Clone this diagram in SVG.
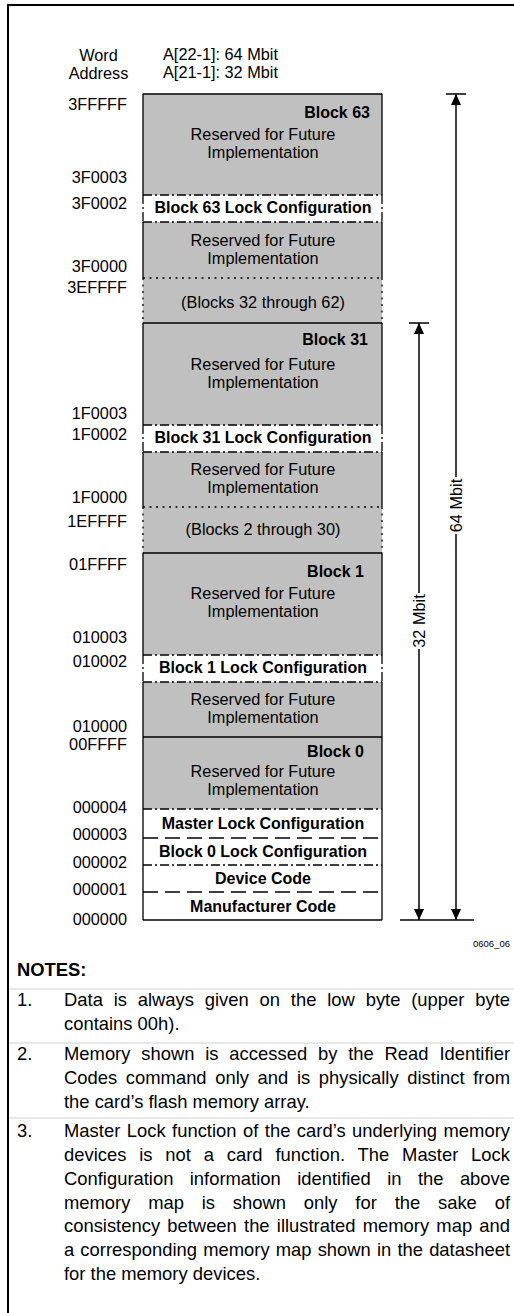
<svg xmlns="http://www.w3.org/2000/svg" width="514" height="1313" viewBox="0 0 514 1313">
<style>
text{font-family:"Liberation Sans",Arial,sans-serif;fill:#000}
.t{font-size:16.3px}
.c{font-size:16.3px;text-anchor:middle}
.b{font-size:16px;font-weight:bold;text-anchor:middle}
.bl{font-size:16px;font-weight:bold;text-anchor:end}
.a{font-size:16.3px;text-anchor:end}
.n{font-size:18.4px}
.g{fill:#c0c0c0;stroke:none}
.s{stroke:#000;stroke-width:1.3;fill:none}
.dd{stroke:#000;stroke-width:1.3;fill:none;stroke-dasharray:9 3 2 3}
.ld{stroke:#000;stroke-width:1.3;fill:none;stroke-dasharray:15 7}
.dt{stroke:#000;stroke-width:1.3;fill:none;stroke-dasharray:2 4.5}
.ar{stroke:#000;stroke-width:1.5;fill:none}
.rule{stroke:#cfcfcf;stroke-width:1}
</style>
<defs>
<marker id="ah" viewBox="0 0 12 12" markerWidth="11" markerHeight="11" refX="12" refY="6" orient="auto" markerUnits="userSpaceOnUse">
<path d="M0,0.5 L12,6 L0,11.5 Z" fill="#000"/>
</marker>
</defs>
<path d="M8,1313 V5 H514" stroke="#000" stroke-width="2" fill="none"/>
<g id="header">
<text class="c" x="98.5" y="61">Word</text>
<text class="c" x="98.5" y="79">Address</text>
<text class="t" x="163" y="60">A[22-1]: 64 Mbit</text>
<text class="t" x="163" y="78">A[21-1]: 32 Mbit</text>
</g>
<g id="addresses">
<text class="a" x="127" y="110">3FFFFF</text>
<text class="a" x="127" y="183">3F0003</text>
<text class="a" x="127" y="209">3F0002</text>
<text class="a" x="127" y="272">3F0000</text>
<text class="a" x="127" y="293">3EFFFF</text>
<text class="a" x="127" y="419">1F0003</text>
<text class="a" x="127" y="440">1F0002</text>
<text class="a" x="127" y="503">1F0000</text>
<text class="a" x="127" y="527">1EFFFF</text>
<text class="a" x="127" y="570">01FFFF</text>
<text class="a" x="127" y="643">010003</text>
<text class="a" x="127" y="667">010002</text>
<text class="a" x="127" y="732">010000</text>
<text class="a" x="127" y="750">00FFFF</text>
<text class="a" x="127" y="813">000004</text>
<text class="a" x="127" y="840">000003</text>
<text class="a" x="127" y="868">000002</text>
<text class="a" x="127" y="895">000001</text>
<text class="a" x="127" y="925">000000</text>
</g>
<g id="fills">
<rect class="g" x="143" y="94" width="239" height="101"/>
<rect class="g" x="143" y="222" width="239" height="203"/>
<rect class="g" x="143" y="452" width="239" height="203"/>
<rect class="g" x="143" y="682" width="239" height="127"/>
</g>
<g id="block63">
<text class="bl" x="370" y="118">Block 63</text>
<text class="c" x="263" y="140">Reserved for Future</text>
<text class="c" x="263" y="158">Implementation</text>
</g>
<g id="lock63"><text class="b" x="263" y="213">Block 63 Lock Configuration</text></g>
<g id="res63"><text class="c" x="263" y="246">Reserved for Future</text><text class="c" x="263" y="264">Implementation</text></g>
<g id="blocks32_62"><text class="c" x="263" y="308">(Blocks 32 through 62)</text></g>
<g id="block31">
<text class="bl" x="368" y="345">Block 31</text>
<text class="c" x="263" y="370">Reserved for Future</text>
<text class="c" x="263" y="388">Implementation</text>
</g>
<g id="lock31"><text class="b" x="263" y="443">Block 31 Lock Configuration</text></g>
<g id="res31"><text class="c" x="263" y="475">Reserved for Future</text><text class="c" x="263" y="493">Implementation</text></g>
<g id="blocks2_30"><text class="c" x="263" y="535">(Blocks 2 through 30)</text></g>
<g id="block1">
<text class="bl" x="364" y="577">Block 1</text>
<text class="c" x="263" y="599">Reserved for Future</text>
<text class="c" x="263" y="617">Implementation</text>
</g>
<g id="lock1"><text class="b" x="263" y="673">Block 1 Lock Configuration</text></g>
<g id="res1"><text class="c" x="263" y="705">Reserved for Future</text><text class="c" x="263" y="723">Implementation</text></g>
<g id="block0">
<text class="bl" x="364" y="757">Block 0</text>
<text class="c" x="263" y="777">Reserved for Future</text>
<text class="c" x="263" y="795">Implementation</text>
</g>
<g id="masterlock"><text class="b" x="263" y="829">Master Lock Configuration</text></g>
<g id="lock0"><text class="b" x="263" y="857">Block 0 Lock Configuration</text></g>
<g id="devicecode"><text class="b" x="263" y="884">Device Code</text></g>
<g id="mfrcode"><text class="b" x="263" y="912">Manufacturer Code</text></g>
<g id="borders">
<path class="s" d="M143,94 H382 M143,323 H382 M143,553 H382 M143,737 H382 M143,920 H382"/>
<path class="dd" d="M143,195 H382 M143,222 H382 M143,425 H382 M143,452 H382 M143,655 H382 M143,682 H382 M143,809 H382 M143,865 H382"/>
<path class="ld" d="M143,838 H382 M143,892 H382"/>
<path class="dt" d="M143,278 H382 M143,507 H382"/>
<path class="s" d="M143,94 V195 M382,94 V195 M143,222 V278 M382,222 V278 M143,323 V425 M382,323 V425 M143,452 V507 M382,452 V507 M143,553 V655 M382,553 V655 M143,682 V920 M382,682 V920"/>
<path class="dd" d="M143,195 V222 M382,195 V222 M143,425 V452 M382,425 V452 M143,655 V682 M382,655 V682"/>
<path class="dt" d="M143,278 V323 M382,278 V323 M143,507 V553 M382,507 V553"/>
</g>
<g id="connectors">
<path class="ar" d="M446,94 H466 M409,323 H429 M400,920 H474"/>
<path class="ar" d="M456,477 V94" marker-end="url(#ah)"/>
<path class="ar" d="M456,534 V920" marker-end="url(#ah)"/>
<path class="ar" d="M419,593 V323" marker-end="url(#ah)"/>
<path class="ar" d="M419,649 V920" marker-end="url(#ah)"/>
<text class="c" x="462" y="505.5" transform="rotate(-90 462 505.5)">64 Mbit</text>
<text class="c" x="425" y="621" transform="rotate(-90 425 621)">32 Mbit</text>
</g>
<text x="510" y="947" style="font-size:9.5px;text-anchor:end">0606_06</text>
<g id="notes">
<text class="n" x="17" y="976" font-weight="bold">NOTES:</text>
<line class="rule" x1="9" y1="989" x2="514" y2="989"/>
<text class="n" x="17" y="1006">1.</text>
<text class="n" x="64" y="1006" style="word-spacing:5.7px" textLength="446" lengthAdjust="spacing">Data is always given on the low byte (upper byte</text>
<text class="n" x="64" y="1030">contains 00h).</text>
<line class="rule" x1="9" y1="1043" x2="514" y2="1043"/>
<text class="n" x="17" y="1060">2.</text>
<text class="n" x="64" y="1060" style="word-spacing:5.7px" textLength="446" lengthAdjust="spacing">Memory shown is accessed by the Read Identifier</text>
<text class="n" x="64" y="1084" style="word-spacing:3.5px" textLength="446" lengthAdjust="spacing">Codes command only and is physically distinct from</text>
<text class="n" x="64" y="1108">the card’s flash memory array.</text>
<line class="rule" x1="9" y1="1118" x2="514" y2="1118"/>
<text class="n" x="17" y="1137">3.</text>
<text class="n" x="64" y="1137" style="word-spacing:1.3px" textLength="446" lengthAdjust="spacing">Master Lock function of the card’s underlying memory</text>
<text class="n" x="64" y="1161" style="word-spacing:7.7px" textLength="446" lengthAdjust="spacing">devices is not a card function. The Master Lock</text>
<text class="n" x="64" y="1185" style="word-spacing:11.3px" textLength="446" lengthAdjust="spacing">Configuration information identified in the above</text>
<text class="n" x="64" y="1209" style="word-spacing:12.7px" textLength="446" lengthAdjust="spacing">memory map is shown only for the sake of</text>
<text class="n" x="64" y="1232" style="word-spacing:2.1px" textLength="446" lengthAdjust="spacing">consistency between the illustrated memory map and</text>
<text class="n" x="64" y="1256" style="word-spacing:1px" textLength="446" lengthAdjust="spacing">a corresponding memory map shown in the datasheet</text>
<text class="n" x="64" y="1280">for the memory devices.</text>
</g>
</svg>
